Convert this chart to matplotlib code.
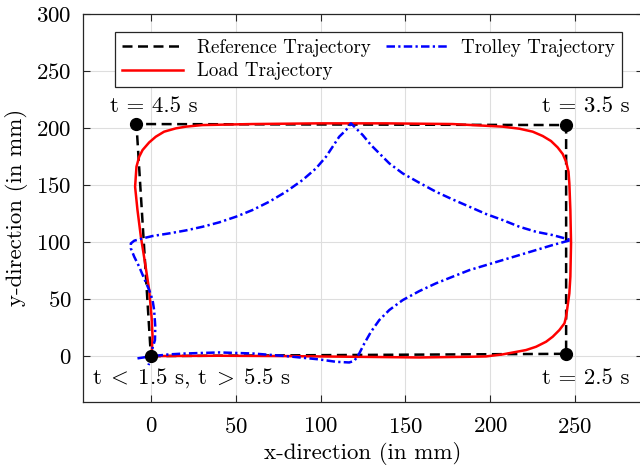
import numpy as np
import matplotlib
matplotlib.use("Agg")
import matplotlib.pyplot as plt

plt.rcParams["font.family"] = "serif"
plt.rcParams["font.serif"] = ["cmr10", "DejaVu Serif"]
plt.rcParams["mathtext.fontset"] = "cm"
plt.rcParams["axes.formatter.use_mathtext"] = True

# reference trajectory corners (mm)
ref_x = [0, 244.7, 244.7, -8.5, 0]
ref_y = [0, 2, 202.6, 203.5, 0]

# load trajectory
load_x = [0.4, 40.3, 79.6, 118.9, 158.2, 187.7, 197.5, 207.3, 221.1, 227,
          232.9, 236.8, 240.7, 243.7, 244.7, 246.6, 247.2, 247.6, 247.2, 246.6,
          246.1, 244.7, 242.7, 239.7, 235.8, 230.9, 225, 217.2, 207.3, 177.8,
          138.5, 99.2, 59.9, 30.4, 20.6, 14.7, 7.8, 2.9, -1, -4.9,
          -6.9, -8.5, -9.3, -7.9, -5.9, -3.4, -1, 0.4, 1, 0.4]
load_y = [0, 0.3, 0, -0.6, -1.2, -0.6, -0.3, 1.5, 5.3, 8.2,
          12.6, 17, 22.8, 28.7, 34.5, 55, 69.6, 99, 128.1, 151.5,
          161.7, 170.4, 177.2, 183, 188.6, 193, 196.8, 199.4, 201.2, 203.5,
          204.1, 204.1, 203.5, 202.6, 201.2, 199.7, 196.8, 192.4, 187.4, 180.7,
          174.8, 166, 148.5, 128.1, 104.7, 81.3, 57.9, 34.5, 17, 0]

# trolley trajectory
trol_x = [-7.9, 0.4, 10.8, 20.6, 40.3, 59.9, 79.6, 99.2, 109, 116.9,
          119.9, 120.9, 122.8, 125.8, 129.7, 134.6, 140.5, 148.4, 158.2, 168,
          177.8, 187.7, 197.5, 207.3, 217.2, 227, 236.8, 247.6,
          236.8, 227, 217.2, 207.3, 197.5, 187.7, 177.8, 168, 158.2, 148.4,
          140.5, 134.6, 129.7, 124.8, 120.9, 117.9,
          115, 111, 107.1, 103.2, 97.3, 89.4, 79.6, 69.8, 59.9, 50.1,
          40.3, 30.4, 20.6, 10.8, 1, -4.9, -9.8, -11.8, -11.8, -9.8,
          -6.9, -4, -1, 1, 1.9, 2.6, 2.4, 0.6, 0, -1.4]
trol_y = [-2, -0.1, 1.5, 2.3, 3.2, 2.3, 0, -2.9, -5, -5.6,
          -4.1, -2, 2.3, 11.1, 21.3, 31.6, 40.4, 49.1, 57, 63.8,
          69.6, 75.4, 79.8, 84.2, 88.6, 93, 97.4, 101.8,
          106.1, 109, 113.4, 119.3, 124.6, 131, 137.4, 144.1, 152, 160.2,
          169, 177.8, 185.1, 193.9, 199.7, 204.1,
          198.2, 192.4, 183.6, 174.8, 164.6, 154.4, 144.1, 135.4, 128.1, 122.2,
          117.3, 113.4, 110.2, 107.6, 105.3, 103.2, 101.2, 98.8, 94.4, 87.1,
          78.4, 68.2, 57.9, 49.1, 40.4, 25.7, 14, 5.3, -2, -7.9]

dot_x = [0, 244.7, 244.7, -8.5]
dot_y = [0, 2, 202.6, 203.5]

xticks = [0, 50, 100, 150, 200, 250]
yticks = [0, 50, 100, 150, 200, 250, 300]

fig = plt.figure(figsize=(6.4, 4.7), dpi=100)
ax = fig.add_axes([83 / 640, 1 - 401.7 / 470, 560 / 640, (401.7 - 14) / 470])

ax.plot(ref_x, ref_y, color="black", linestyle=(0, (4, 2.2)), linewidth=1.8,
        label="Reference Trajectory", zorder=3)
ax.plot(load_x, load_y, color="red", linewidth=1.8, label="Load Trajectory", zorder=4)
ax.plot(trol_x, trol_y, color="blue", linestyle=(0, (3.4, 1.3, 0.9, 1.3)), linewidth=1.8,
        label="Trolley Trajectory", zorder=5)
ax.plot(dot_x, dot_y, "o", color="black", markersize=8.5, zorder=6)

ax.set_xlim(-40, 290)
ax.set_ylim(-40, 300)
ax.set_xticks(xticks)
ax.set_yticks(yticks)
ax.grid(True, color="#dedede", linewidth=0.8)
ax.set_axisbelow(True)
ax.tick_params(direction="in", top=True, right=True, length=5, width=0.8,
               labelsize=16.5, color="#262626")
ax.tick_params(axis="x", pad=11)
ax.tick_params(axis="y", pad=8)
for s in ax.spines.values():
    s.set_color("#262626")
    s.set_linewidth(0.9)

ax.set_xlabel("x-direction (in mm)", fontsize=16.5)
ax.set_ylabel("y-direction (in mm)", fontsize=16.5)
ax.xaxis.set_label_coords(0.5, -0.105)
ax.yaxis.set_label_coords(-0.098, 0.5)

ax.text(1.5, 219, "t = 4.5 s", fontsize=16.5, ha="center", va="center")
ax.text(282, 219, "t = 3.5 s", fontsize=16.5, ha="right", va="center")
ax.text(282, -19.5, "t = 2.5 s", fontsize=16.5, ha="right", va="center")
ax.text(-34.6, -19.5, r"t$\;<\;$1.5 s, t$\;>\;$5.5 s", fontsize=16.5,
        ha="left", va="center")

leg = ax.legend(ncol=2, loc="upper left", bbox_to_anchor=(115 / 640, 1 - 32 / 470),
                bbox_transform=fig.transFigure, borderaxespad=0, fontsize=13.7,
                handlelength=3.2, handletextpad=0.74, columnspacing=0.84,
                labelspacing=0.3, borderpad=0.35, fancybox=False, framealpha=1,
                edgecolor="#262626")
leg.get_frame().set_linewidth(0.9)

fig.savefig("out.png", dpi=100)
